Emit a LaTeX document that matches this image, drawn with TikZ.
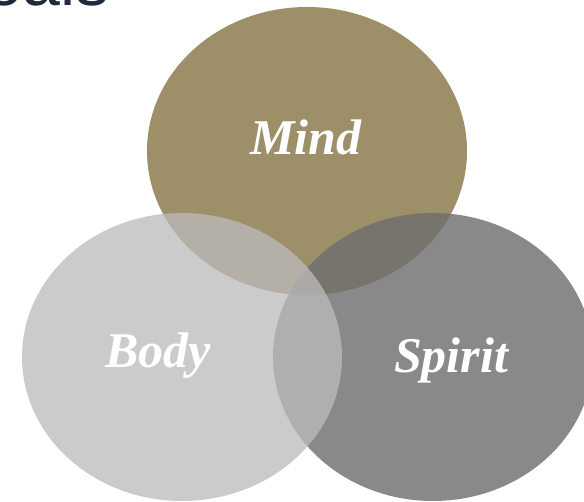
\documentclass[tikz,border=0pt]{standalone}
\usepackage{fontspec}
\setmainfont{Liberation Serif}
\newfontfamily\headfont{Liberation Sans}
\usetikzlibrary{shapes.geometric}

\definecolor{mindgold}{RGB}{157,143,104}
\definecolor{spiritgray}{RGB}{110,110,110}
\definecolor{bodygray}{RGB}{187,187,187}
\definecolor{headnavy}{RGB}{31,43,61}

\begin{document}
\begin{tikzpicture}[
  x=1pt,
  y=1pt,
  blob/.style={ellipse, minimum width=320pt, minimum height=288pt, inner sep=0pt},
  mindblob/.style={blob, fill=mindgold},
  spiritblob/.style={blob, fill=spiritgray, fill opacity=0.81},
  bodyblob/.style={blob, fill=bodygray, fill opacity=0.77},
  word/.style={anchor=base, text=white, font=\fontsize{50}{50}\selectfont\bfseries\itshape}
]
\useasboundingbox (0,0) rectangle (584,502);
\clip (0,0) rectangle (584,502);

% heading, cut at the top edge
\node[anchor=base east, inner sep=0pt, text=headnavy, font=\headfont\fontsize{68}{68}\selectfont] (head) at (110,496) {oals};

% the three circles
\node[mindblob] (mind) at (307,351) {};
\node[spiritblob] (spirit) at (433,145) {};
\node[bodyblob] (body) at (182,145) {};

\node[word] (mindtxt) at (306,347) {Mind};
\node[word] (bodytxt) at (158,134) {Body};
\node[word] (spirittxt) at (451,129) {Spirit};

\end{tikzpicture}
\end{document}
